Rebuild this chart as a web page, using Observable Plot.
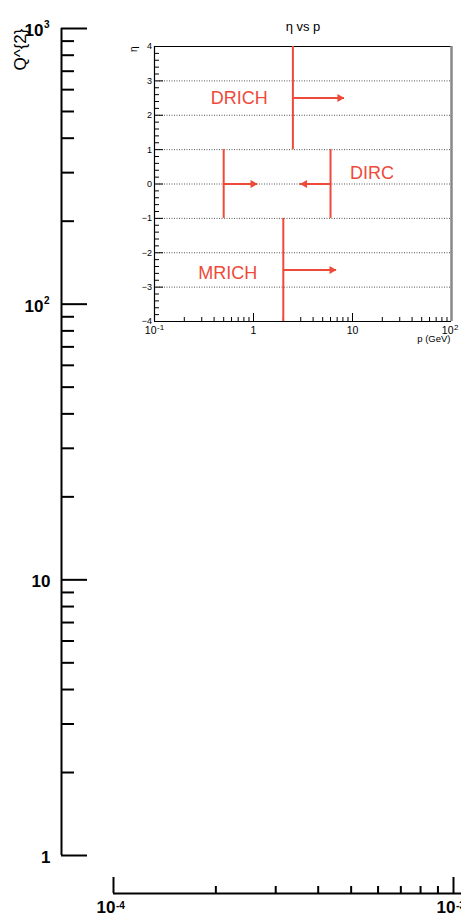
<!DOCTYPE html>
<html><head><meta charset="utf-8">
<script src="https://cdn.jsdelivr.net/npm/d3@7"></script>
<script src="https://cdn.jsdelivr.net/npm/@observablehq/plot@0.6"></script>
<style>
html,body{margin:0;padding:0;background:#fff;overflow:hidden;}
#stage{position:relative;width:461px;height:923px;overflow:hidden;background:#fff;}
#stage svg{position:absolute;left:0;top:0;}
</style></head><body><div id="stage"></div>
<script>
// ---- Outer axes: Q^2 (log) and x (log) ----
const q2Major = [1, 10, 100, 1000];
const q2Base = ["1", "10", "10", "10"];
const q2Exp = ["", "", "2", "3"];
const q2Title = "Q^{2}";
const xMajor = [1e-4, 1e-3, 1e-2];
const xBase = ["10", "10", "10"];
const xExp = ["-4", "-3", "-2"];

// ---- Inset: eta vs p ----
const insetTitle = "η vs p";
const etaTitle = "η";
const pTitle = "p (GeV)";
const etaMajor = [-4, -3, -2, -1, 0, 1, 2, 3, 4];
const etaLabels = ["\u22124", "\u22123", "\u22122", "\u22121", "0", "1", "2", "3", "4"];
const etaGrid = [-3, -2, -1, 0, 1, 2, 3];
const pMajor = [0.1, 1, 10, 100];
const pBase = ["10", "1", "10", "10"];
const pExp = ["-1", "", "", "2"];

// detector momentum thresholds (vertical lines)
const thrDetector = ["DRICH", "DIRC", "DIRC", "MRICH"];
const thrP = [2.5, 0.5, 6, 2];
const thrEtaLow = [1, -1, -1, -4];
const thrEtaHigh = [4, 1, 1, -1];
// arrows
const arrowFrom = [2.5, 0.5, 6, 2];
const arrowTo = [8.3, 1.1, 2.95, 6.9];
const arrowEta = [2.5, 0, 0, -2.5];
// labels
const labelText = ["DRICH", "DIRC", "MRICH"];
const labelP = [0.717, 15.7, 0.55];
const labelEta = [2.5, 0.3, -2.6];

const RED = "#ee4a3a";
const FONT = "'Liberation Sans', Helvetica, Arial, sans-serif";
const W = 461, H = 923;

function logMinors(majors) {
  const out = [];
  for (let i = 0; i < majors.length - 1; i++) for (let k = 2; k <= 9; k++) out.push(majors[i] * k);
  return out;
}
function linMinors(majors, n) {
  const out = [];
  for (let i = 0; i < majors.length - 1; i++) {
    const step = (majors[i + 1] - majors[i]) / n;
    for (let k = 1; k < n; k++) out.push(majors[i] + k * step);
  }
  return out;
}
const svgStyle = {background: "transparent", overflow: "visible", fontFamily: FONT, maxWidth: "none"};

// ---------- Outer Y axis ----------
const yLeft = 61, yMajorLen = 26, yMinorLen = 13;
const q2Rows = q2Major.map((v, i) => ({v, base: q2Base[i], exp: q2Exp[i]}));
const ySvg = Plot.plot({
  width: yLeft + yMajorLen + 10, height: H,
  marginLeft: yLeft, marginRight: 10, marginTop: 28, marginBottom: 68,
  x: {domain: [0, 1], axis: null},
  y: {type: "log", domain: [q2Major[0], q2Major[q2Major.length - 1]], axis: null},
  style: svgStyle,
  marks: [
    Plot.ruleX([0], {y1: q2Major[0], y2: q2Major[q2Major.length - 1], strokeWidth: 2}),
    Plot.tickY(q2Major, {strokeWidth: 2}),
    Plot.tickY(logMinors(q2Major), {strokeWidth: 2, insetRight: yMajorLen - yMinorLen}),
    Plot.text(q2Rows.filter(d => d.exp), {y: "v", text: "base", frameAnchor: "left", textAnchor: "end", dx: -18, dy: 2.5, fontSize: 17, fontWeight: "bold"}),
    Plot.text(q2Rows.filter(d => d.exp), {y: "v", text: "exp", frameAnchor: "left", textAnchor: "start", dx: -17.5, dy: -3.5, fontSize: 10, fontWeight: "bold"}),
    Plot.text(q2Rows.filter(d => !d.exp), {y: "v", text: "base", frameAnchor: "left", textAnchor: "end", dx: -11, dy: 2, fontSize: 17, fontWeight: "bold"}),
    Plot.text([q2Title], {frameAnchor: "top-left", rotate: -90, textAnchor: "end", dx: -48, fontSize: 17})
  ]
});

// ---------- Outer X axis ----------
const xRows = xMajor.map((v, i) => ({v, base: xBase[i], exp: xExp[i]}));
const xSvg = Plot.plot({
  width: 113 + 680 + 10, height: H,
  marginLeft: 113, marginRight: 10, marginTop: 877, marginBottom: 30,
  x: {type: "log", domain: [xMajor[0], xMajor[xMajor.length - 1]], axis: null},
  y: {domain: [0, 1], axis: null},
  style: svgStyle,
  marks: [
    Plot.ruleY([0], {strokeWidth: 2}),
    Plot.tickX(xMajor, {strokeWidth: 2}),
    Plot.tickX(logMinors(xMajor), {strokeWidth: 2, insetTop: 9}),
    Plot.text(xRows, {x: "v", text: "base", frameAnchor: "bottom", textAnchor: "end", dx: 2, dy: 19, fontSize: 17, fontWeight: "bold"}),
    Plot.text(xRows, {x: "v", text: "exp", frameAnchor: "bottom", textAnchor: "start", dx: 2.5, dy: 15.5, fontSize: 10, fontWeight: "bold"})
  ]
});

// ---------- Inset ----------
const iL = 154, iR = 10, iT = 46, iB = 29, iW = W, iH = 350;
const fw = iW - iL - iR, fh = iH - iT - iB;
const etaRows = etaMajor.map((v, i) => ({v, label: etaLabels[i]}));
const pRows = pMajor.map((v, i) => ({v, base: pBase[i], exp: pExp[i]}));
const thr = thrP.map((p, i) => ({det: thrDetector[i], p, lo: thrEtaLow[i], hi: thrEtaHigh[i]}));
const arrows = arrowFrom.map((a, i) => ({from: a, to: arrowTo[i], eta: arrowEta[i]}));
const labels = labelText.map((t, i) => ({t, p: labelP[i], eta: labelEta[i]}));

const inset = Plot.plot({
  width: iW, height: iH,
  marginLeft: iL, marginRight: iR, marginTop: iT, marginBottom: iB,
  x: {type: "log", domain: [pMajor[0], pMajor[pMajor.length - 1]], axis: null},
  y: {domain: [etaMajor[0], etaMajor[etaMajor.length - 1]], axis: null},
  style: svgStyle,
  marks: [
    Plot.ruleY(etaGrid, {stroke: "#555", strokeDasharray: "1,1.5", strokeWidth: 1}),
    Plot.tickY(etaMajor, {insetRight: fw - 9}),
    Plot.tickY(linMinors(etaMajor, 5), {insetRight: fw - 5}),
    Plot.tickX(pMajor, {insetTop: fh - 8}),
    Plot.tickX(logMinors(pMajor), {insetTop: fh - 4}),
    Plot.ruleY([etaMajor[etaMajor.length - 1]], {strokeWidth: 1}),
    Plot.ruleY([etaMajor[0]], {strokeWidth: 1.2}),
    Plot.ruleX([pMajor[0]], {strokeWidth: 1.2}),
    Plot.ruleX([pMajor[pMajor.length - 1]], {stroke: "#888", strokeWidth: 2.5}),
    // detector lines and arrows
    Plot.ruleX(thr, {x: "p", y1: "lo", y2: "hi", stroke: RED, strokeWidth: 2}),
    Plot.ruleY(arrows, {y: "eta", x1: "from", x2: "to", stroke: RED, strokeWidth: 2}),
    Plot.dot(arrows.filter(d => d.to > d.from), {x: "to", y: "eta", symbol: "triangle", rotate: 90, r: 3, fill: RED, stroke: null, dx: -4.7}),
    Plot.dot(arrows.filter(d => d.to < d.from), {x: "to", y: "eta", symbol: "triangle", rotate: -90, r: 3, fill: RED, stroke: null, dx: 4.7}),
    Plot.text(labels, {x: "p", y: "eta", text: "t", fill: RED, fontSize: 18, textAnchor: "middle"}),
    // axis labels
    Plot.text(etaRows, {y: "v", text: "label", frameAnchor: "left", textAnchor: "end", dx: -2.5, fontSize: 9}),
    Plot.text(pRows.filter(d => d.exp), {x: "v", text: "base", frameAnchor: "bottom", textAnchor: "end", dx: 2, dy: 12.3, fontSize: 10.5}),
    Plot.text(pRows.filter(d => d.exp), {x: "v", text: "exp", frameAnchor: "bottom", textAnchor: "start", dx: 2.5, dy: 8.7, fontSize: 8}),
    Plot.text(pRows.filter(d => !d.exp), {x: "v", text: "base", frameAnchor: "bottom", textAnchor: "middle", dy: 12.3, fontSize: 10.5}),
    Plot.text([pTitle], {frameAnchor: "bottom-right", textAnchor: "end", dx: -1, dy: 20.5, fontSize: 9.5}),
    Plot.text([etaTitle], {frameAnchor: "top-left", rotate: -90, textAnchor: "end", dx: -25, fontSize: 10}),
    Plot.text([insetTitle], {frameAnchor: "top", dy: -25, fontSize: 13})
  ]
});

document.getElementById("stage").append(ySvg, xSvg, inset);
</script>
</body></html>
